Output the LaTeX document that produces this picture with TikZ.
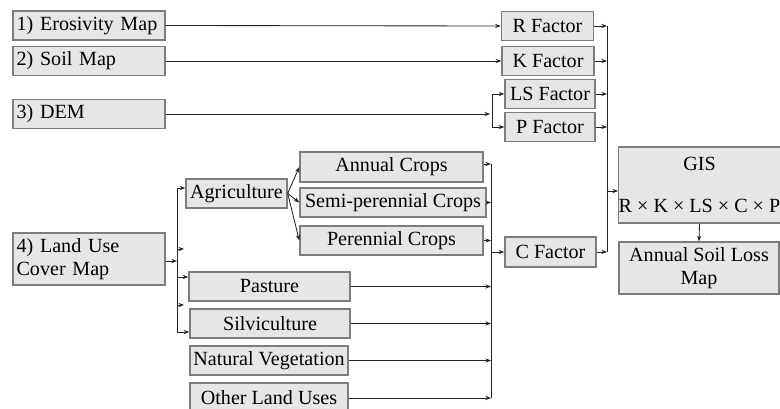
\documentclass[tikz,border=0pt]{standalone}
\usepackage{fontspec}
\setmainfont{Liberation Serif}
\usetikzlibrary{arrows.meta, calc}
\definecolor{boxfill}{RGB}{230,230,230}
\definecolor{boxedge}{RGB}{125,125,125}
\definecolor{wire}{RGB}{35,35,35}
\tikzset{
  box/.style={rectangle, draw=boxedge, fill=boxfill, line width=1pt,
    inner sep=1pt, minimum height=0.72cm, align=center,
    font=\fontsize{14.3}{16.5}\selectfont},
  inbox/.style={box, text width=3.62cm, inner xsep=0.09cm, align=left},
  arrow/.style={-{Stealth[length=4pt, width=3pt]}, line width=0.6pt, color=wire},
  line/.style={line width=0.6pt, color=wire}
}
\begin{document}
\begin{tikzpicture}[x=0.025cm, y=-0.025cm]
  \useasboundingbox (0,0) rectangle (780,408);

  % Input maps
  \node[inbox] (ero)  at (89,25.5) {1) Erosivity Map};
  \node[inbox] (soil) at (89,61)   {2) Soil Map};
  \node[inbox] (dem)  at (89,114)  {3) DEM};
  \node[inbox, minimum height=1.3cm] (luc) at (89,259) {4) Land Use\\Cover Map};

  % Land use classes
  \node[box, minimum width=2.525cm] (agri) at (236.5,193.5) {Agriculture};
  \node[box, minimum width=4.575cm, minimum height=0.75cm] (ann) at (391.5,167) {Annual Crops};
  \node[box, minimum width=4.65cm] (semi) at (393,202.5) {Semi-perennial Crops};
  \node[box, minimum width=4.575cm] (per) at (391.5,240.5) {Perennial Crops};
  \node[box, minimum width=4.025cm] (pas) at (269.5,286.5) {Pasture};
  \node[box, minimum width=4cm]     (silv) at (270,323.5) {Silviculture};
  \node[box, minimum width=3.95cm]  (nat) at (269,360.5) {Natural Vegetation};
  \node[box, minimum width=3.95cm]  (oth) at (269,397.5) {Other Land Uses};

  % Factors
  \node[box, minimum width=2.3cm]   (R)  at (547.5,26) {R Factor};
  \node[box, minimum width=2.3cm]   (K)  at (548,61)   {K Factor};
  \node[box, minimum width=2.25cm]  (LS) at (550,94)   {LS Factor};
  \node[box, minimum width=2.25cm]  (P)  at (550,127)  {P Factor};
  \node[box, minimum width=2.275cm, minimum height=0.75cm] (C) at (550.5,252) {C Factor};

  % GIS and result
  \node[box, minimum width=4.025cm, minimum height=1.9cm, inner xsep=0pt] (gis) at (699.5,185)
    {GIS\\[13pt]R × K × LS × C × P};
  \node[box, minimum width=4cm, minimum height=1.3cm] (loss) at (699,268)
    {Annual Soil Loss\\Map};

  % Bus points
  \coordinate (demj) at (490,114);
  \coordinate (bA1) at (492,94);
  \coordinate (bA2) at (492,127);
  \coordinate (bB1) at (607,26);
  \coordinate (bB2) at (607,252);
  \coordinate (bBg) at (607,191);
  \coordinate (bC1) at (491,164);
  \coordinate (bC2) at (491,398);
  \coordinate (bD1) at (177,188);
  \coordinate (bD2) at (177,332);
  \coordinate (bDl) at (177,261);

  % Top inputs
  \draw[arrow] (ero.east) -- (R.west);
  \draw[arrow] (soil.east) -- (K.west);
  \draw[arrow] (dem.east) -- (demj);
  \draw[line] (bA1) -- (bA2);
  \draw[arrow] (bA1) -- (LS.west);
  \draw[arrow] (bA2) -- (P.west);

  % Factors into GIS
  \draw[line] (bB1) -- (bB2);
  \foreach \f in {R, K, LS, P, C}
    \draw[arrow] (\f.east) -- (\f.east -| bB1);
  \draw[arrow] (bBg) -- (gis.west |- bBg);
  \draw[arrow] (gis.south) -- (loss.north);

  % Land use split
  \draw[arrow] (luc.east |- bDl) -- (bDl);
  \draw[line] (bD1) -- (bD2);
  \draw[arrow] (bD1) -- (agri.west |- bD1);
  \draw[arrow] (177,249) -- (184,249);
  \draw[arrow] (177,277) -- (pas.west |- 0,277);
  \draw[arrow] (177,305) -- (184,305);
  \draw[arrow] (bD2) -- (silv.west |- bD2);
  \draw[arrow] (agri.east) -- (ann.west);
  \draw[arrow] (agri.east) -- (semi.west);
  \draw[arrow] (agri.east) -- (per.west);

  % Land use into C factor
  \draw[line] (bC1) -- (bC2);
  \draw[arrow] (ann.east |- bC1) -- (bC1);
  \foreach \u in {semi, per, pas, silv, nat}
    \draw[arrow] (\u.east) -- (\u.east -| bC1);
  \draw[arrow] (oth.east |- bC2) -- (bC2);
  \draw[arrow] (C.west -| bC1) -- (C.west);
\end{tikzpicture}
\end{document}
